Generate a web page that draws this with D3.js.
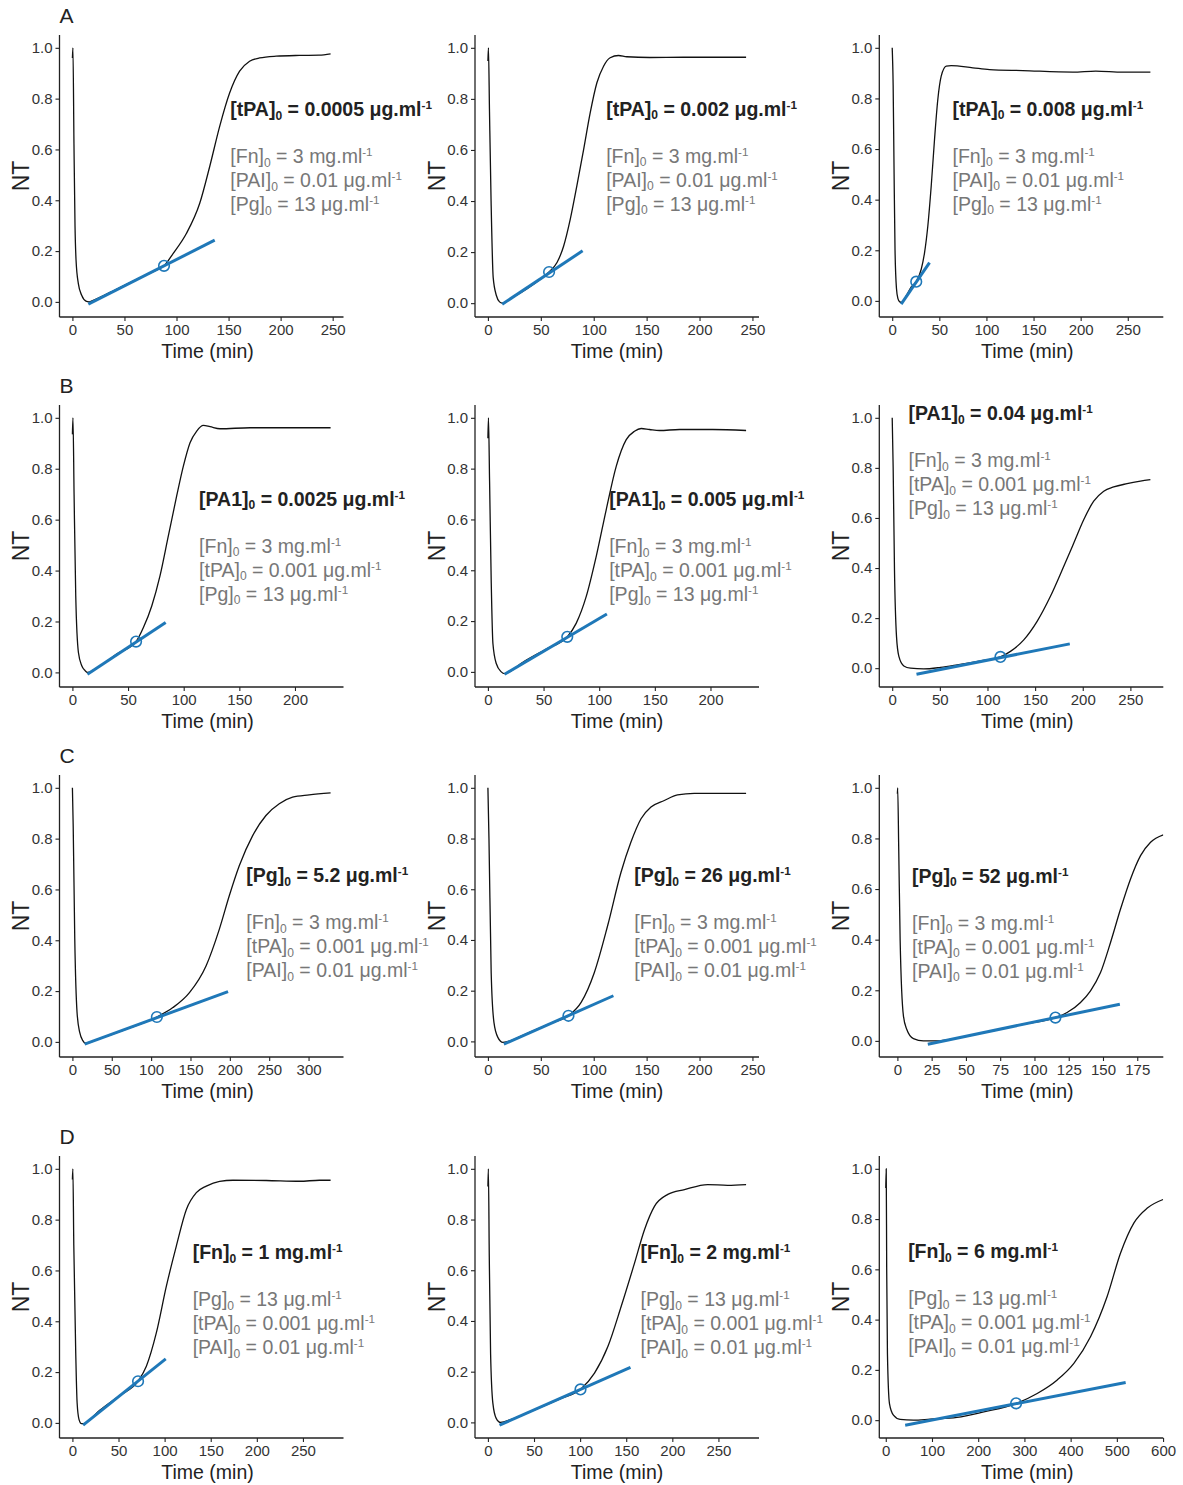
<!DOCTYPE html>
<html>
<head>
<meta charset="utf-8">
<script src="https://cdn.jsdelivr.net/npm/d3@7"></script>
<style>
  body { margin: 0; background: #fff; }
  svg text { font-family: "Liberation Sans", Arial, Helvetica, sans-serif; }
</style>
</head>
<body>
<svg id="fig" width="1183" height="1485"></svg>
<script>
// ---- NT(t) curves, one array of [time (min), NT] pairs per panel ----
const curveA1 = [[0,0.96],[0.5,1.0],[1.5,0.62],[2.5,0.3],[3.5,0.164],[5.7,0.072],[8.9,0.026],[13,0.003],[16,0],[20,0.006],[30,0.025],[40,0.045],[50,0.065],[60,0.085],[70,0.105],[80,0.124],[88,0.142],[96.7,0.19],[109.6,0.27],[122.3,0.388],[131.9,0.533],[141.4,0.69],[151,0.822],[160.6,0.908],[170.2,0.947],[179.8,0.96],[195.7,0.967],[218,0.97],[237,0.971],[248,0.976]];
const curveA2 = [[0,0.948],[0.5,1.0],[1.5,0.75],[3,0.4],[5,0.1],[8,0.03],[11,0.005],[13.5,0],[24.5,0.025],[37,0.057],[49.6,0.094],[57.8,0.122],[65.3,0.159],[71.6,0.224],[77.9,0.33],[84.1,0.46],[90.4,0.6],[96.7,0.746],[103,0.863],[109.3,0.928],[115.5,0.961],[123.4,0.97],[131.2,0.965],[153,0.962],[184.6,0.963],[216,0.963],[244,0.963]];
const curveA3 = [[0,1.0],[1,0.85],[2,0.5],[3,0.2],[4.5,0.05],[6,0.01],[8,-0.004],[10,-0.006],[14.9,0.02],[20.2,0.055],[25.5,0.076],[30.8,0.125],[34.3,0.19],[37.8,0.296],[41.4,0.454],[44.9,0.638],[48.4,0.796],[52,0.888],[57.3,0.928],[62.6,0.93],[85.6,0.921],[103.3,0.914],[138.6,0.91],[191.7,0.904],[216,0.908],[244.7,0.904],[274,0.904]];
const curveB1 = [[0,0.935],[0.5,1.0],[1.5,0.7],[3,0.3],[5.4,0.078],[8.4,0.026],[11.4,0.007],[13.5,0],[24.9,0.026],[39.8,0.072],[57.2,0.121],[63.8,0.176],[71.3,0.261],[78.7,0.379],[86.2,0.536],[93.7,0.693],[99.7,0.81],[105.7,0.902],[111.7,0.948],[117.7,0.97],[123.7,0.965],[132.6,0.957],[159.6,0.961],[189.5,0.961],[232,0.961]];
const curveB2 = [[0,0.92],[0.5,1.0],[1.5,0.75],[3,0.35],[4.5,0.112],[7.5,0.033],[12,0],[15,-0.007],[31.4,0.038],[52.4,0.09],[71.3,0.138],[79.3,0.191],[88.3,0.296],[97.3,0.454],[106.3,0.638],[115.3,0.809],[124.3,0.914],[131.7,0.947],[137.7,0.958],[145.2,0.954],[154.2,0.95],[172.2,0.954],[202,0.954],[232,0.95]];
const curveB3 = [[0,1.0],[1,0.8],[2.4,0.39],[4.5,0.127],[7,0.047],[12.2,0.009],[19.2,0],[33,-0.003],[50.7,0.003],[68.2,0.013],[92.7,0.029],[113.6,0.045],[124.1,0.067],[138.1,0.113],[152.1,0.187],[166.1,0.287],[180.1,0.407],[190.6,0.5],[201,0.593],[211.5,0.667],[222,0.707],[232.5,0.724],[246.5,0.737],[260.5,0.747],[271,0.753]];
const curveC1 = [[0,1.0],[1,0.85],[3,0.405],[5.9,0.116],[9.3,0.037],[13.5,0.004],[16,-0.005],[34.6,0.013],[68.4,0.05],[107.3,0.098],[127.6,0.135],[148.7,0.194],[169.9,0.3],[186.7,0.444],[199.4,0.576],[212.1,0.694],[229,0.812],[245.9,0.891],[262.8,0.937],[279.7,0.963],[300.8,0.972],[328,0.98]];
const curveC2 = [[0,1.0],[1,0.8],[3.1,0.27],[5.7,0.075],[9.4,0.016],[14.2,-0.004],[37.7,0.033],[59.7,0.072],[76.1,0.101],[88.1,0.154],[100.6,0.272],[113.2,0.457],[125.8,0.667],[135.2,0.786],[144.7,0.878],[154.1,0.924],[166.7,0.95],[179.2,0.972],[195,0.978],[226.4,0.978],[244,0.978]];
const curveC3 = [[0,0.976],[0.2,1.0],[1,0.75],[2,0.4],[4.4,0.099],[6.8,0.046],[11.7,0.009],[19,0],[28.8,0],[43.4,0.011],[67.8,0.038],[92.1,0.066],[115.3,0.092],[123.8,0.112],[133.6,0.152],[140.9,0.198],[148.2,0.27],[155.5,0.389],[162.8,0.521],[170.1,0.64],[177.4,0.732],[184.7,0.785],[194,0.814]];
const curveD1 = [[0,0.958],[0.5,1.0],[1.5,0.7],[3.6,0.276],[5.1,0.079],[7.2,0.013],[9.8,-0.003],[11.6,-0.003],[29.6,0.05],[51.3,0.108],[71.2,0.164],[80.2,0.223],[91,0.354],[101.9,0.538],[112.7,0.696],[123.6,0.84],[134.4,0.906],[145.2,0.932],[159.7,0.951],[174.1,0.955],[210.3,0.954],[246.4,0.951],[268,0.955],[280,0.955]];
const curveD2 = [[0,0.93],[0.5,1.0],[1.5,0.65],[2.9,0.273],[5.4,0.075],[9,0.016],[13.7,0],[25.3,0.012],[43.4,0.038],[61.4,0.066],[79.5,0.095],[100.4,0.13],[115.6,0.194],[130.1,0.299],[144.5,0.457],[159,0.628],[169.8,0.76],[180.6,0.852],[195.1,0.899],[213.2,0.918],[238.4,0.938],[260,0.935],[280,0.938]];
const curveD3 = [[0,0.924],[1,1.0],[2,0.6],[3.6,0.266],[8,0.066],[16.6,0.02],[31,0.003],[60,0],[96,0.004],[154,0.011],[212,0.033],[282,0.066],[327.6,0.106],[371,0.16],[407,0.226],[443,0.332],[479,0.492],[508,0.665],[537,0.785],[566,0.844],[600,0.878]];

const curves = [curveA1, curveA2, curveA3, curveB1, curveB2, curveB3,
                curveC1, curveC2, curveC3, curveD1, curveD2, curveD3];

// ---- tangent lines at the lysis-onset point ----
const tangentStart = [[15.3,-0.009],[13.5,-0.004],[9.5,-0.013],[13.5,-0.007],[15,-0.009],[25.5,-0.024],
                      [15.6,-0.009],[15.1,-0.011],[22.2,-0.013],[11.6,-0.009],[12.6,-0.011],[42,-0.02]];
const tangentEnd   = [[136.7,0.243],[89.5,0.205],[39.6,0.151],[83.8,0.196],[106.9,0.228],[186.4,0.097],
                      [197.7,0.198],[118.6,0.18],[162.3,0.145],[101.2,0.252],[154.6,0.217],[519,0.15]];
const tangentPoint = [[88,0.142],[57.8,0.122],[25.5,0.076],[57.2,0.121],[71.3,0.138],[113.6,0.045],
                      [107.3,0.098],[76.1,0.101],[115.3,0.092],[71.2,0.164],[100.4,0.13],[282,0.067]];

// ---- axes ----
const xTickStep = [50, 50, 50, 50, 50, 50, 50, 50, 25, 50, 50, 100];
const xLimits   = [null, null, null, null, null, null, null, null, [-13.2, 194], null, null, [-14, 600.5]];
const yTicks    = [0, 0.2, 0.4, 0.6, 0.8, 1.0];
const panelLetters = ["A", "B", "C", "D"];

// ---- annotations: varied species (bold) and fixed conditions (grey) ----
const variedSpecies = ["tPA","tPA","tPA","PA1","PA1","PA1","Pg","Pg","Pg","Fn","Fn","Fn"];
const variedValue   = ["0.0005","0.002","0.008","0.0025","0.005","0.04","5.2","26","52","1","2","6"];
const variedUnit    = ["μg.ml","μg.ml","μg.ml","μg.ml","μg.ml","μg.ml","μg.ml","μg.ml","μg.ml","mg.ml","mg.ml","mg.ml"];
const fixedRowA = [["Fn","3","mg.ml"],["PAI","0.01","μg.ml"],["Pg","13","μg.ml"]];
const fixedRowB = [["Fn","3","mg.ml"],["tPA","0.001","μg.ml"],["Pg","13","μg.ml"]];
const fixedRowC = [["Fn","3","mg.ml"],["tPA","0.001","μg.ml"],["PAI","0.01","μg.ml"]];
const fixedRowD = [["Pg","13","μg.ml"],["tPA","0.001","μg.ml"],["PAI","0.01","μg.ml"]];
const fixedByRow = [fixedRowA, fixedRowB, fixedRowC, fixedRowD];
// anchor of each annotation block, in data units (time, NT)
const annotAnchor = [[151.7,0.757],[111.8,0.759],[64,0.757],[113.8,0.68],[109,0.678],[17.1,1.017],
                     [221,0.653],[138.4,0.653],[10.7,0.65],[130.4,0.67],[165.5,0.67],[48.4,0.67]];

// ---- layout ----
const colLeft = [59.5, 475, 879.3];
const rowTop  = [35, 405, 775, 1156];
const titleShift = [6, 0, 6];
const plotW = 284, plotH = 282;
const blue = "#1f78b8";
const boldSize = 19.5, greySize = 19.5, lineGap = 24;

const svg = d3.select("#fig");

// one concentration entry "[X]0 = v unit-1"
function chemText(textSel, species, value, unit, size) {
  textSel.append("tspan").text(`[${species}]`);
  textSel.append("tspan").attr("font-size", size * 0.62).attr("dy", size * 0.18).text("0");
  textSel.append("tspan").attr("dy", -size * 0.18).text(` = ${value} ${unit}`);
  textSel.append("tspan").attr("font-size", size * 0.6).attr("dy", -size * 0.36).text("-1");
}

curves.forEach((curve, i) => {
  const row = Math.floor(i / 3), col = i % 3;
  const left = colLeft[col], top = rowTop[row];

  // x domain: data extent with 5% padding, unless fixed limits are set
  const xMax = d3.max(curve, d => d[0]);
  const xDom = xLimits[i] || [-0.05 * xMax, xMax * 1.05];
  const yMin = Math.min(d3.min(curve, d => d[1]), tangentStart[i][1]);
  const yMax = 1.0;
  const yPad = 0.05 * (yMax - yMin);

  const x = d3.scaleLinear().domain(xDom).range([0, plotW]);
  const y = d3.scaleLinear().domain([yMin - yPad, yMax + yPad]).range([plotH, 0]);

  const g = svg.append("g").attr("transform", `translate(${left},${top})`);

  const clipId = `clip${i}`;
  g.append("clipPath").attr("id", clipId)
    .append("rect").attr("x", 0).attr("y", 0).attr("width", plotW).attr("height", plotH);

  // axes
  const xTicks = d3.range(0, xDom[1] + 1e-6, xTickStep[i]);
  const xAxis = g.append("g").attr("transform", `translate(0,${plotH})`)
    .call(d3.axisBottom(x).tickValues(xTicks).tickFormat(d3.format("d")).tickSizeOuter(0).tickSize(4).tickPadding(3));
  const yAxis = g.append("g")
    .call(d3.axisLeft(y).tickValues(yTicks).tickFormat(d3.format(".1f")).tickSizeOuter(0).tickSize(4).tickPadding(3));
  [xAxis, yAxis].forEach(a => {
    a.select(".domain").attr("stroke", "#222").attr("stroke-width", 1.3);
    a.selectAll(".tick line").attr("stroke", "#222").attr("stroke-width", 1.1);
    a.selectAll(".tick text").attr("fill", "#333").attr("font-size", 15);
  });
  // axis lines span the full panel
  xAxis.select(".domain").attr("d", `M0,0H${plotW}`);
  yAxis.select(".domain").attr("d", `M0,0V${plotH}`);

  // axis titles
  g.append("text")
    .attr("x", plotW / 2 + titleShift[col]).attr("y", plotH + 41)
    .attr("text-anchor", "middle").attr("font-size", 19.5).attr("fill", "#222")
    .text("Time (min)");
  g.append("text")
    .attr("transform", `translate(-38.5,${plotH / 2}) rotate(-90)`)
    .attr("text-anchor", "middle").attr("dominant-baseline", "central")
    .attr("font-size", 23).attr("fill", "#222")
    .text("NT");

  const plot = g.append("g").attr("clip-path", `url(#${clipId})`);

  // NT curve
  plot.append("path")
    .datum(curve)
    .attr("fill", "none").attr("stroke", "#111").attr("stroke-width", 1.3)
    .attr("d", d3.line().x(d => x(d[0])).y(d => y(d[1])).curve(d3.curveMonotoneX));

  // tangent line and its contact point
  plot.append("line")
    .attr("x1", x(tangentStart[i][0])).attr("y1", y(tangentStart[i][1]))
    .attr("x2", x(tangentEnd[i][0])).attr("y2", y(tangentEnd[i][1]))
    .attr("stroke", blue).attr("stroke-width", 3);
  plot.append("circle")
    .attr("cx", x(tangentPoint[i][0])).attr("cy", y(tangentPoint[i][1]))
    .attr("r", 5.3).attr("fill", "none").attr("stroke", blue).attr("stroke-width", 1.6);

  // annotation block: bold varied concentration, then the fixed ones in grey
  const ax = x(annotAnchor[i][0]), ay = y(annotAnchor[i][1]);
  const bold = g.append("text")
    .attr("x", ax).attr("y", ay + 6.5)
    .attr("font-size", boldSize).attr("font-weight", "bold").attr("fill", "#222");
  chemText(bold, variedSpecies[i], variedValue[i], variedUnit[i], boldSize);

  fixedByRow[row].forEach((c, k) => {
    const t = g.append("text")
      .attr("x", ax).attr("y", ay + 53.5 + lineGap * k)
      .attr("font-size", greySize).attr("fill", "#777");
    chemText(t, c[0], c[1], c[2], greySize);
  });

  // panel letter on the first column
  if (col === 0) {
    svg.append("text")
      .attr("x", left).attr("y", top - 11.7)
      .attr("font-size", 21).attr("fill", "#222")
      .text(panelLetters[row]);
  }
});
</script>
</body>
</html>
